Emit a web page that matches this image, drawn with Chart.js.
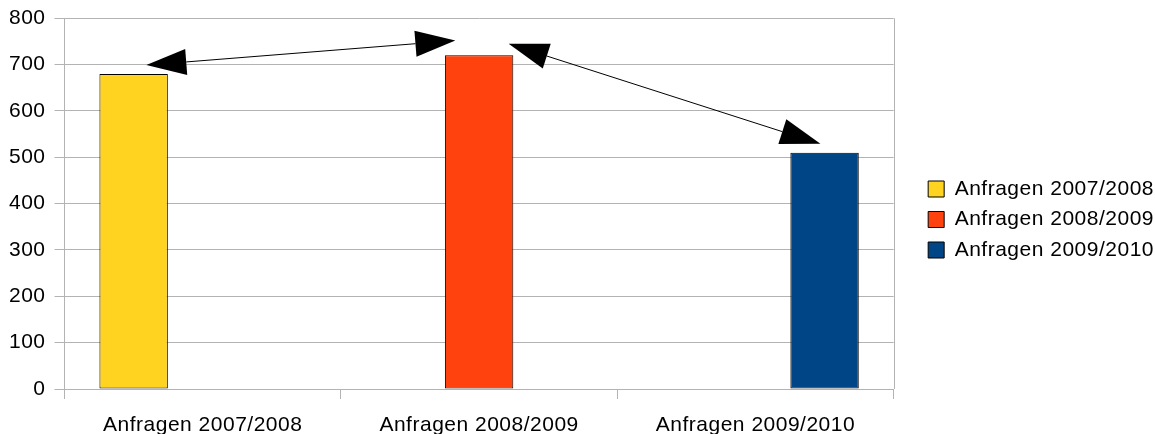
<!DOCTYPE html>
<html>
<head>
<meta charset="utf-8">
<script src="https://cdn.jsdelivr.net/npm/chart.js@4/dist/chart.umd.min.js"></script>
<style>
  html, body { margin: 0; padding: 0; background: #fff; }
  #wrap { width: 1155px; height: 434px; position: relative; }
</style>
</head>
<body>
<div id="wrap"><canvas id="c"></canvas></div>
<script>
const categories = ['Anfragen 2007/2008', 'Anfragen 2008/2009', 'Anfragen 2009/2010'];
const seriesLabels = ['Anfragen 2007/2008', 'Anfragen 2008/2009', 'Anfragen 2009/2010'];
const series2007 = [680, null, null];
const series2008 = [null, 720, null];
const series2009 = [null, null, 510];
const seriesColors = ['#ffd320', '#ff420e', '#004586'];
const yTicks = [0, 100, 200, 300, 400, 500, 600, 700, 800];
// double-headed arrows, ends given as [category index, value]
const arrowStarts = [[-0.204, 699], [1.107, 745]];
const arrowEnds = [[0.914, 752], [2.235, 529]];

const FONT = "'Liberation Sans', Arial, sans-serif";
const GRID = '#b3b3b3';
const SPACING = '0.5px';

const spacingPlugin = {
  id: 'spacing',
  beforeUpdate(chart) { chart.ctx.letterSpacing = SPACING; },
  beforeLayout(chart) { chart.ctx.letterSpacing = SPACING; },
  afterLayout(chart) {
    const lg = chart.legend;
    if (lg) {
      const w = lg.right - lg.left;
      lg.left = chart.chartArea.right + 25;
      lg.right = lg.left + w;
      lg.top = 2; lg.bottom = 437;
    }
  },
  beforeDraw(chart) { chart.ctx.letterSpacing = SPACING; }
};

const framePlugin = {
  id: 'frame',
  beforeDatasetsDraw(chart) {
    const a = chart.chartArea, ctx = chart.ctx;
    ctx.save();
    ctx.strokeStyle = GRID;
    ctx.lineWidth = 1;
    ctx.beginPath();
    ctx.moveTo(Math.round(a.right) + 0.5, a.top);
    ctx.lineTo(Math.round(a.right) + 0.5, a.bottom);
    ctx.stroke();
    ctx.restore();
  }
};

const arrowPlugin = {
  id: 'arrows',
  afterDatasetsDraw(chart) {
    const xs = chart.scales.x, ys = chart.scales.y, ctx = chart.ctx;
    const headLen = 40, headHalf = 13;
    ctx.save();
    ctx.fillStyle = '#000';
    ctx.strokeStyle = '#000';
    ctx.lineWidth = 1;
    for (let i = 0; i < arrowStarts.length; i++) {
      const x1 = xs.getPixelForValue(arrowStarts[i][0]);
      const y1 = ys.getPixelForValue(arrowStarts[i][1]);
      const x2 = xs.getPixelForValue(arrowEnds[i][0]);
      const y2 = ys.getPixelForValue(arrowEnds[i][1]);
      const dx = x2 - x1, dy = y2 - y1, len = Math.hypot(dx, dy);
      const ux = dx / len, uy = dy / len, nx = -uy, ny = ux;
      ctx.beginPath();
      ctx.moveTo(x1 + ux * headLen, y1 + uy * headLen);
      ctx.lineTo(x2 - ux * headLen, y2 - uy * headLen);
      ctx.stroke();
      const head = (tx, ty, sx, sy) => {
        const bx = tx + sx * headLen, by = ty + sy * headLen;
        ctx.beginPath();
        ctx.moveTo(tx, ty);
        ctx.lineTo(bx + nx * headHalf, by + ny * headHalf);
        ctx.lineTo(bx - nx * headHalf, by - ny * headHalf);
        ctx.closePath();
        ctx.fill();
      };
      head(x1, y1, ux, uy);
      head(x2, y2, -ux, -uy);
    }
    ctx.restore();
  }
};

const seriesValues = [series2007, series2008, series2009];
const datasets = seriesLabels.map((lab, i) => ({
  label: lab,
  data: seriesValues[i],
  backgroundColor: seriesColors[i],
  borderColor: '#000000',
  borderWidth: 1,
  borderSkipped: false
}));

new Chart(document.getElementById('c'), {
  type: 'bar',
  data: { labels: categories, datasets },
  plugins: [spacingPlugin, framePlugin, arrowPlugin],
  options: {
    responsive: true,
    maintainAspectRatio: false,
    animation: false,
    devicePixelRatio: 1,
    datasets: { bar: { categoryPercentage: 0.75, barPercentage: 0.99 } },
    layout: { padding: { left: 0, right: 16, top: 0, bottom: -17 } },
    plugins: {
      tooltip: { enabled: false },
      legend: {
        position: 'right',
        align: 'center',
        labels: {
          boxWidth: 16,
          boxHeight: 16,
          padding: 9.5,
          color: '#000',
          font: { family: FONT, size: 21 }
        }
      }
    },
    scales: {
      x: {
        offset: true,
        grid: { display: true, drawOnChartArea: false, offset: true, tickLength: 10, color: GRID },
        border: { color: GRID },
        ticks: { color: '#000', padding: 15.5, font: { family: FONT, size: 21, lineHeight: 1.0 }, maxRotation: 0 }
      },
      y: {
        min: 0,
        max: 800,
        afterBuildTicks(axis) { axis.ticks = yTicks.map(v => ({ value: v })); },
        grid: { color: GRID, tickLength: 10 },
        border: { color: GRID },
        ticks: { color: '#000', padding: 9, font: { family: FONT, size: 21, lineHeight: '18.6px' } }
      }
    }
  }
});
</script>
</body>
</html>
